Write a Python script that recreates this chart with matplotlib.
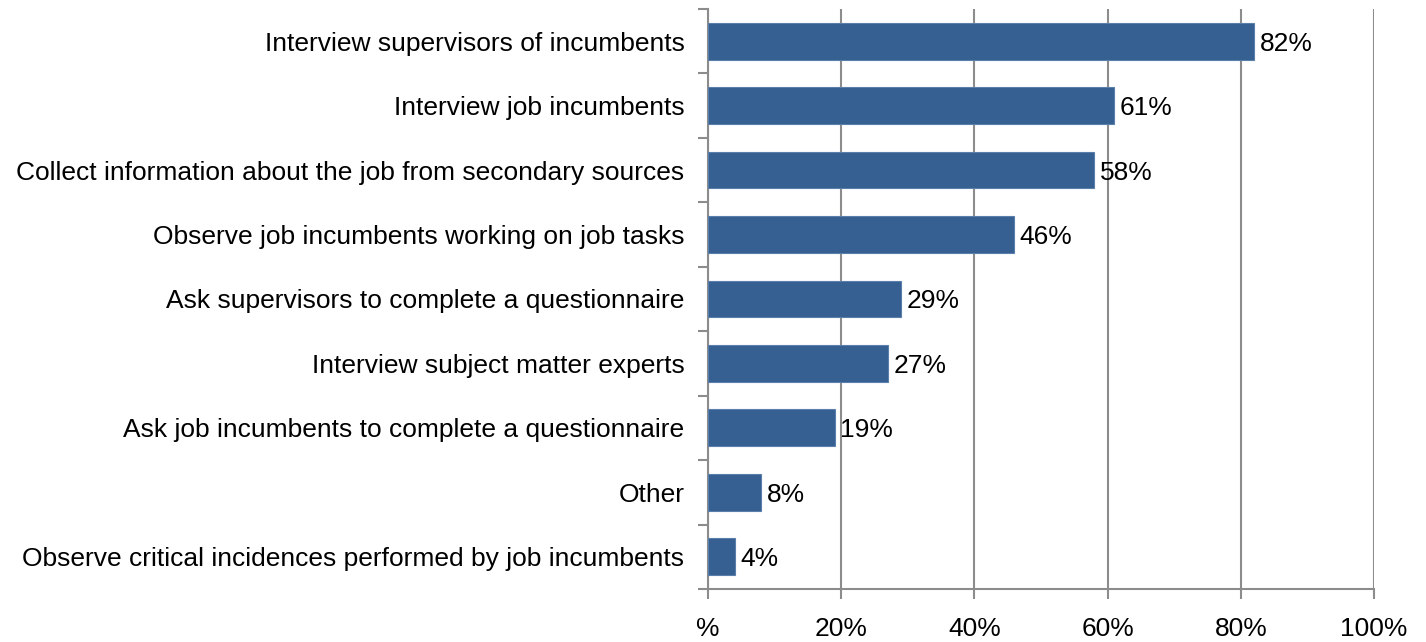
import matplotlib
matplotlib.use("Agg")
import matplotlib.pyplot as plt

categories = [
    "Interview supervisors of incumbents",
    "Interview job incumbents",
    "Collect information about the job from secondary sources",
    "Observe job incumbents working on job tasks",
    "Ask supervisors to complete a questionnaire",
    "Interview subject matter experts",
    "Ask job incumbents to complete a questionnaire",
    "Other",
    "Observe critical incidences performed by job incumbents",
]
values = [82, 61, 58, 46, 29, 27, 19, 8, 4]
x_ticks = [0, 20, 40, 60, 80, 100]
x_tick_labels = ["%", "20%", "40%", "60%", "80%", "100%"]

plt.rcParams["font.family"] = ["Liberation Sans", "DejaVu Sans"]
bar_color = "#366092"
axis_gray = "#8c8c8c"
fs = 19

fig = plt.figure(figsize=(14.26, 6.42), dpi=100)
ax = fig.add_axes([0.4965, 0.0826, 0.467, 0.9034])

n = len(categories)
ypos = list(range(n))
ax.barh(ypos, values, height=0.57, color=bar_color, edgecolor="#5a7fab",
        linewidth=0.8, zorder=3)

for y, v in zip(ypos, values):
    ax.text(v + 0.8, y, f"{v}%", va="center_baseline", ha="left",
            fontsize=fs, color="black", zorder=4)

ax.set_xlim(0, 100)
ax.set_ylim(n - 0.5, -0.5)
ax.set_xticks(x_ticks)
ax.set_xticklabels(x_tick_labels, fontsize=fs)
ax.set_yticks(ypos)
ax.set_yticklabels(categories, fontsize=fs)
ax.set_yticks([i - 0.5 for i in range(n + 1)], minor=True)

ax.tick_params(axis="y", which="major", length=0, pad=17)
ax.tick_params(axis="y", which="minor", length=7, width=1.5, color=axis_gray)
ax.tick_params(axis="x", length=7, width=1.5, color=axis_gray, pad=13)

ax.grid(axis="x", color=axis_gray, linewidth=1.5, zorder=0)
for side in ("top", "right"):
    ax.spines[side].set_visible(False)
for side in ("left", "bottom"):
    ax.spines[side].set_color(axis_gray)
    ax.spines[side].set_linewidth(1.5)

fig.savefig("out.png", dpi=100, facecolor="white")
